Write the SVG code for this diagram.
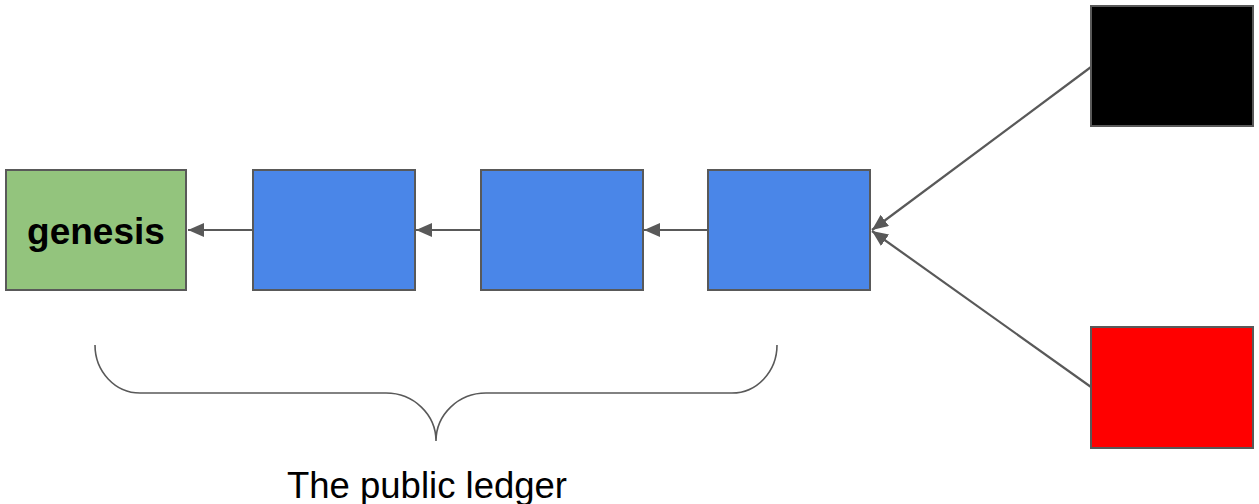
<svg xmlns="http://www.w3.org/2000/svg" width="1259" height="504" viewBox="0 0 1259 504">
  <style>
    .box { stroke: #595959; stroke-width: 2; }
    .link { stroke: #595959; stroke-width: 2.2; fill: none; marker-end: url(#arrow); }
    .brace { stroke: #595959; stroke-width: 1.6; fill: none; }
    .label { font-family: "Liberation Sans", Arial, sans-serif; fill: #000; }
  </style>
  <defs>
    <marker id="arrow" markerUnits="userSpaceOnUse" markerWidth="18" markerHeight="16" refX="16" refY="7" orient="auto">
      <path d="M0,0 L16,7 L0,14 Z" fill="#595959"/>
    </marker>
  </defs>

  <rect width="1259" height="504" fill="#ffffff"/>

  <g id="connectors">
    <line class="link" x1="253" y1="230" x2="188" y2="230"/>
    <line class="link" x1="481" y1="230" x2="416" y2="230"/>
    <line class="link" x1="708" y1="230" x2="644" y2="230"/>
    <line class="link" x1="1091" y1="67" x2="872" y2="230"/>
    <line class="link" x1="1091" y1="387" x2="872" y2="231"/>
  </g>

  <g id="genesis">
    <rect class="box" x="6" y="170" width="180" height="120" fill="#93c47d"/>
    <text class="label" x="96" y="244" font-size="37" font-weight="bold" text-anchor="middle">genesis</text>
  </g>
  <g id="block1">
    <rect class="box" x="253" y="170" width="162" height="120" fill="#4a86e8"/>
  </g>
  <g id="block2">
    <rect class="box" x="481" y="170" width="162" height="120" fill="#4a86e8"/>
  </g>
  <g id="block3">
    <rect class="box" x="708" y="170" width="162" height="120" fill="#4a86e8"/>
  </g>
  <g id="block-black">
    <rect class="box" x="1091" y="6" width="162" height="120" fill="#000000"/>
  </g>
  <g id="block-red">
    <rect class="box" x="1091" y="327" width="162" height="121" fill="#ff0000"/>
  </g>

  <g id="ledger-brace">
    <path class="brace" d="M95,345 A45,48 0 0 0 140,393 L386,393 A50,48 0 0 1 436,441 A50,48 0 0 1 486,393 L732,393 A45,48 0 0 0 777,345"/>
    <text class="label" x="427" y="498" font-size="36.5" text-anchor="middle">The public ledger</text>
  </g>
</svg>
